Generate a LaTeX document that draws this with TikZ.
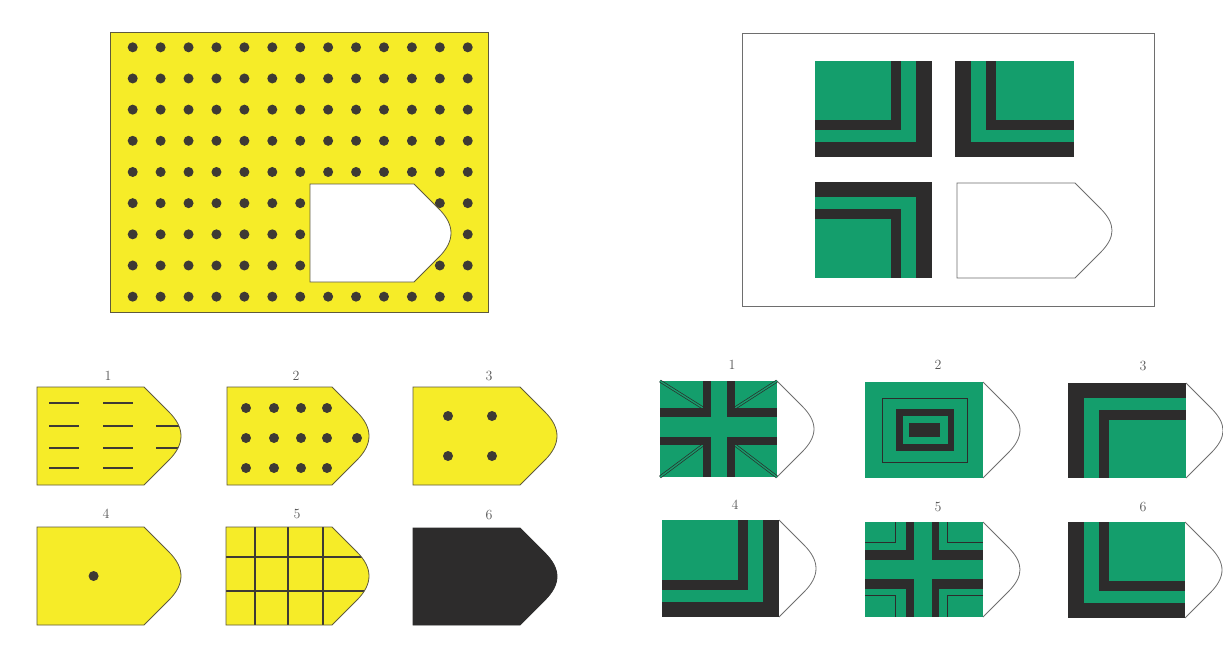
\documentclass[tikz,border=0pt]{standalone}
\usepackage{xcolor}
\definecolor{ylw}{RGB}{246,236,40}
\definecolor{dotc}{RGB}{62,58,52}
\definecolor{gr}{RGB}{20,158,108}
\definecolor{dk}{RGB}{45,44,44}
\definecolor{olv}{RGB}{95,90,60}
\definecolor{frm}{RGB}{110,110,110}
\definecolor{lbl}{RGB}{85,85,85}
% tag shape: left, top, rect width, height
\newcommand{\tagp}[4]{(#1,#2) -- (#1+#3,#2) -- (#1+#3+25,#2+25) .. controls (#1+#3+41,#2+41) and (#1+#3+41,#2+#4-41) .. (#1+#3+25,#2+#4-25) -- (#1+#3,#2+#4) -- (#1,#2+#4) -- cycle}
\newcommand{\tipp}[4]{(#1+#3,#2) -- (#1+#3+25,#2+25) .. controls (#1+#3+41,#2+41) and (#1+#3+41,#2+#4-41) .. (#1+#3+25,#2+#4-25) -- (#1+#3,#2+#4)}
% L band pattern: inner anchor corner, band corner, signs
\newcommand{\Lpat}[6]{%
\fill[dk] (#1,#2) rectangle (#3,#4);
\fill[gr] (#1,#2) rectangle (#3-#5*16,#4-#6*15);
\fill[dk] (#1,#2) rectangle (#3-#5*31,#4-#6*27);
\fill[gr] (#1,#2) rectangle (#3-#5*41,#4-#6*37);}
\tikzset{
  yshape/.style={draw=olv, line width=0.8pt},
  tagline/.style={draw=frm, line width=0.8pt},
  numlbl/.style={text=lbl, font=\fontsize{14}{14}\selectfont, inner sep=0pt},
  ydot/.style={fill=dotc},
  dashln/.style={draw=dotc, line width=2pt},
  gridln/.style={draw=dotc, line width=1.6pt},
  thinln/.style={draw=dk, line width=0.7pt},
  diagln/.style={draw=dk, line width=0.7pt, double=gr, double distance=1.4pt}
}
\begin{document}
\begin{tikzpicture}[x=1pt,y=-1pt]
\useasboundingbox (0,0) rectangle (1223,657);
\fill[white] (0,0) rectangle (1223,657);

% ===== Left main panel =====
\fill[ylw] (110,32) rectangle (488,312);
\draw[yshape] (110,32) rectangle (488,312);
\foreach \i in {0,...,12}
  \foreach \j in {0,...,8}
    \fill[ydot] (132.7+\i*27.92, 47.3+\j*31.17) circle (5pt);
\filldraw[fill=white, yshape] \tagp{310}{184}{104}{98};

% ===== Left options =====
% 1
\fill[ylw] \tagp{37}{387}{107}{98};
\begin{scope}
\clip \tagp{37}{387}{107}{98};
\foreach \yy in {16,39,61,81} {
  \draw[dashln] (37+12,387+\yy) -- (37+42,387+\yy);
  \draw[dashln] (37+66,387+\yy) -- (37+96,387+\yy);
}
\draw[dashln] (37+119,387+39) -- (37+160,387+39);
\draw[dashln] (37+119,387+61) -- (37+160,387+61);
\end{scope}
\draw[yshape] \tagp{37}{387}{107}{98};
\node[numlbl] (l1) at (108,376) {1};

% 2
\filldraw[fill=ylw, yshape] \tagp{227}{387}{105}{98};
\foreach \xx in {19,47,74,100}
  \foreach \yy in {21,51,81}
    \fill[ydot] (227+\xx,387+\yy) circle (5pt);
\fill[ydot] (227+130,387+51) circle (5pt);
\node[numlbl] (l2) at (296,376) {2};

% 3
\filldraw[fill=ylw, yshape] \tagp{413}{387}{107}{98};
\foreach \xx in {35,79}
  \foreach \yy in {29,69}
    \fill[ydot] (413+\xx,387+\yy) circle (5pt);
\node[numlbl] (l3) at (489,376) {3};

% 4
\filldraw[fill=ylw, yshape] \tagp{37}{527}{107}{98};
\fill[ydot] (37+56.6,527+49) circle (5pt);
\node[numlbl] (l4) at (106,514) {4};

% 5
\fill[ylw] \tagp{226}{527}{106}{98};
\begin{scope}
\clip \tagp{226}{527}{106}{98};
\foreach \xx in {29,62,97}
  \draw[gridln] (226+\xx,527) -- (226+\xx,625);
\foreach \yy in {30,64}
  \draw[gridln] (226,527+\yy) -- (380,527+\yy);
\end{scope}
\draw[yshape] \tagp{226}{527}{106}{98};
\node[numlbl] (l5) at (297,514) {5};

% 6
\filldraw[fill=dk, draw=dk, line width=0.8pt] \tagp{413}{528}{107}{97};
\node[numlbl] (l6) at (489,515) {6};

% ===== Right main panel =====
\draw[frm, line width=0.9pt] (742,33) rectangle (1154,306);
\Lpat{815}{61}{932}{157}{1}{1}
\Lpat{1074}{61}{955}{157}{-1}{1}
\Lpat{815}{278}{932}{182}{1}{-1}
\filldraw[fill=white, tagline] \tagp{957}{183}{118}{95};

% ===== Right options =====
% 1
\draw[tagline] \tipp{660}{381}{117}{96};
\fill[gr] (660,381) rectangle (777,477);
\draw[diagln] (660,381) -- (703,408);
\draw[diagln] (777,381) -- (735,408);
\draw[diagln] (660,477) -- (703,445);
\draw[diagln] (777,477) -- (735,445);
\fill[dk] (703,381) rectangle (735,477);
\fill[dk] (660,408) rectangle (777,445);
\fill[gr] (711,381) rectangle (727,477);
\fill[gr] (660,417) rectangle (777,437);
\node[numlbl] (r1) at (732,365) {1};

% 2
\draw[tagline] \tipp{865}{382}{118}{96};
\fill[gr] (865,382) rectangle (983,478);
\draw[thinln] (882,398) rectangle (967,462);
\fill[dk] (896,409) rectangle (954,451);
\fill[gr] (903,416) rectangle (948,444);
\fill[dk] (909,423) rectangle (940,437);
\node[numlbl] (r2) at (938,365) {2};

% 3
\draw[tagline] \tipp{1068}{383}{118}{95};
\Lpat{1186}{478}{1068}{383}{-1}{-1}
\node[numlbl] (r3) at (1143,366) {3};

% 4
\draw[tagline] \tipp{662}{520}{117}{97};
\Lpat{662}{520}{779}{617}{1}{1}
\node[numlbl] (r4) at (735,505) {4};

% 5
\draw[tagline] \tipp{865}{522}{118}{95};
\fill[gr] (865,522) rectangle (983,617);
\draw[thinln] (895,522) -- (895,542) -- (865,542);
\draw[thinln] (947,522) -- (947,542) -- (983,542);
\draw[thinln] (865,595) -- (895,595) -- (895,617);
\draw[thinln] (983,595) -- (947,595) -- (947,617);
\fill[dk] (906,522) rectangle (939,617);
\fill[dk] (865,550) rectangle (983,589);
\fill[gr] (914,522) rectangle (932,617);
\fill[gr] (865,560) rectangle (983,579);
\node[numlbl] (r5) at (938,507) {5};

% 6
\draw[tagline] \tipp{1068}{522}{117}{96};
\Lpat{1185}{522}{1068}{618}{-1}{1}
\node[numlbl] (r6) at (1143,507) {6};
\end{tikzpicture}
\end{document}
